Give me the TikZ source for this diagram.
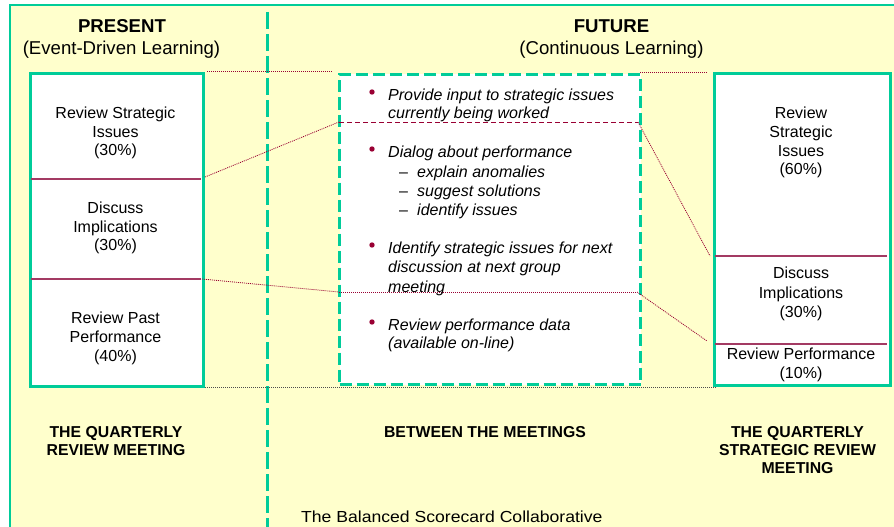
\documentclass[tikz,border=0pt]{standalone}
\usepackage{fontspec}
\usepackage{graphicx}
\setmainfont{Liberation Sans}
\definecolor{bg}{HTML}{FFFFCC}
\definecolor{grn}{HTML}{00CC99}
\definecolor{mar}{HTML}{990033}
\definecolor{divc}{HTML}{A33A63}
\begin{document}
\begin{tikzpicture}[x=1pt,y=-1pt,
  box/.style={draw=grn, line width=3pt, fill=white, rectangle, inner sep=0pt, anchor=north west},
  dbox/.style={draw=grn, line width=3pt, fill=white, rectangle, inner sep=0pt, anchor=north west, dash pattern=on 12pt off 5pt},
  divider/.style={divc, line width=1.5pt},
  conn/.style={mar, line width=0.8pt, dash pattern=on 1pt off 1pt},
  t/.style={font=\fontsize{16}{19}\selectfont, inner sep=0pt, anchor=base},
  ti/.style={font=\fontsize{16}{19}\selectfont\itshape, inner sep=0pt, anchor=base west},
  hd/.style={font=\fontsize{18.6}{22}\selectfont\bfseries, inner sep=0pt, anchor=base},
  hs/.style={font=\fontsize{18.6}{22}\selectfont, inner sep=0pt, anchor=base},
  bl/.style={font=\fontsize{15.8}{18}\selectfont\bfseries, inner sep=0pt, anchor=base},
  bul/.style={fill=mar}
]
\useasboundingbox (0,0) rectangle (894,527);
\fill[white] (0,0) rectangle (894,527);
\fill[bg] (10,5) rectangle (900,540);
\draw[grn, line width=2pt] (10,540) -- (10,5) -- (900,5);

% vertical separator
\coordinate (sepT) at (267,12);
\coordinate (sepB) at (267,530);
\draw[grn, line width=3pt, dash pattern=on 17pt off 5pt] (sepT) -- (sepB);

% headers
\node[hd] (present) at (122,33) {PRESENT};
\node[hs] (presentsub) at (121.5,55) {(Event-Driven Learning)};
\node[hd] (future) at (611.5,33) {FUTURE};
\node[hs] (futuresub) at (611.5,55) {(Continuous Learning)};

% boxes
\node[box, minimum width=173pt, minimum height=313pt] (L) at (29,72) {};
\node[dbox, minimum width=301pt, minimum height=310pt] (M) at (338,73) {};
\node[box, minimum width=176pt, minimum height=312pt] (R) at (713,72) {};

% left dividers
\coordinate (L1w) at (30.5,179); \coordinate (L1e) at (200.5,179);
\coordinate (L2w) at (30.5,279); \coordinate (L2e) at (200.5,279);
\draw[divider] (L1w) -- (L1e);
\draw[divider] (L2w) -- (L2e);

% middle dividers
\coordinate (M1w) at (339,122); \coordinate (M1e) at (638,122);
\coordinate (M2w) at (339,292); \coordinate (M2e) at (637,292);
\draw[mar, line width=1pt, dash pattern=on 5pt off 3pt] (M1w) -- (M1e);
\draw[conn] (M2w) -- (M2e);

% right dividers
\coordinate (R1w) at (715,256); \coordinate (R1e) at (887,256);
\coordinate (R2w) at (715,344); \coordinate (R2e) at (887,344);
\draw[divider] (R1w) -- (R1e);
\draw[divider] (R2w) -- (R2e);

% connectors
\coordinate (ct1) at (207,71); \coordinate (ct2) at (332,71);
\coordinate (ct3) at (640,72); \coordinate (ct4) at (707,72);
\coordinate (cb1) at (205,387); \coordinate (cb2) at (717,387);
\coordinate (cl1) at (205,177);
\coordinate (cl2) at (202,279);
\coordinate (cr1) at (710,256);
\coordinate (cr2) at (707,341);
\draw[conn] (ct1) -- (ct2);
\draw[conn] (ct3) -- (ct4);
\draw[black!70, line width=0.8pt, dash pattern=on 1pt off 1pt] (cb1) -- (cb2);
\draw[conn] (cl1) -- (M1w);
\draw[conn] (cl2) -- (M2w);
\draw[conn] (M1e) -- (cr1);
\draw[conn] (M2e) -- (cr2);

% left box text
\node[t] (l1) at (115.5,118) {Review Strategic};
\node[t] (l2) at (115.5,137) {Issues};
\node[t] (l3) at (115.5,155) {(30\%)};
\node[t] (l4) at (115.5,213) {Discuss};
\node[t] (l5) at (115.5,232) {Implications};
\node[t] (l6) at (115.5,250) {(30\%)};
\node[t] (l7) at (115.5,323) {Review Past};
\node[t] (l8) at (115.5,342) {Performance};
\node[t] (l9) at (115.5,361) {(40\%)};

% right box text
\node[t] (r1) at (801,118) {Review};
\node[t] (r2) at (801,137) {Strategic};
\node[t] (r3) at (801,156) {Issues};
\node[t] (r4) at (801,174) {(60\%)};
\node[t] (r5) at (801,278) {Discuss};
\node[t] (r6) at (801,298) {Implications};
\node[t] (r7) at (801,317) {(30\%)};
\node[t] (r8) at (801,359) {Review Performance};
\node[t] (r9) at (801,378) {(10\%)};

% middle bullets
\fill[bul] (372,92) circle[radius=2.7pt];
\fill[bul] (372,149) circle[radius=2.7pt];
\fill[bul] (372,245) circle[radius=2.7pt];
\fill[bul] (372,322) circle[radius=2.7pt];
\node[ti] (m1) at (388,100) {Provide input to strategic issues};
\node[ti] (m2) at (388,118) {currently being worked};
\node[ti] (m3) at (388,157) {Dialog about performance};
\node[ti] (d1) at (399,177) {\upshape –};
\node[ti] (d2) at (399,196) {\upshape –};
\node[ti] (d3) at (399,215) {\upshape –};
\node[ti] (m4) at (417,177) {explain anomalies};
\node[ti] (m5) at (417,196) {suggest solutions};
\node[ti] (m6) at (417,215) {identify issues};
\node[ti] (m7) at (388,253) {Identify strategic issues for next};
\node[ti] (m8) at (388,272) {discussion at next group};
\node[ti] (m9) at (388,292) {meeting};
\node[ti] (m10) at (388,330) {Review performance data};
\node[ti] (m11) at (388,348) {(available on-line)};

% bottom labels
\node[bl] (b1) at (116,437) {THE QUARTERLY};
\node[bl] (b2) at (116,455) {REVIEW MEETING};
\node[bl] (b3) at (485,437) {BETWEEN THE MEETINGS};
\node[bl] (b4) at (797.5,437) {THE QUARTERLY};
\node[bl] (b5) at (797.5,455) {STRATEGIC REVIEW};
\node[bl] (b6) at (797.5,473) {MEETING};
\node[inner sep=0pt, anchor=base west, font=\fontsize{16}{19}\selectfont] (bsc) at (301,522) {\scalebox{1.1}[1]{The Balanced Scorecard Collaborative}};
\end{tikzpicture}
\end{document}
